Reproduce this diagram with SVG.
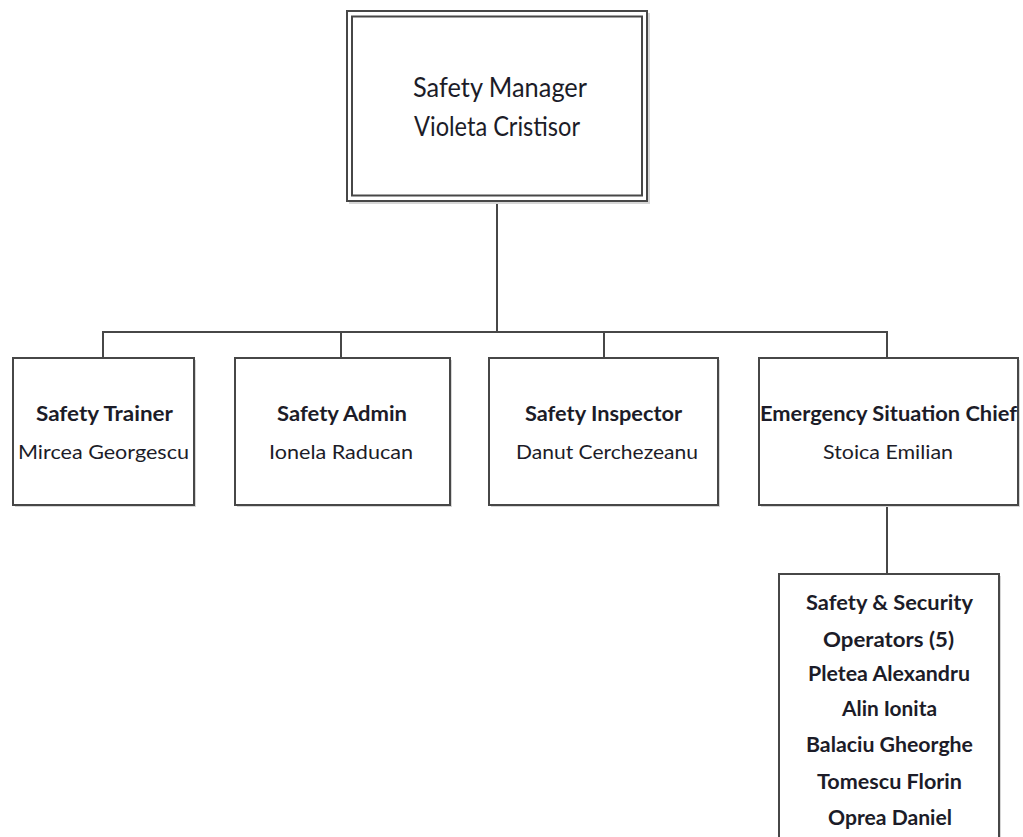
<svg xmlns="http://www.w3.org/2000/svg" width="1023" height="837" viewBox="0 0 1023 837">
  <style>
    .box { fill: #ffffff; stroke: #474747; stroke-width: 2; }
    .shadow { fill: #d6d6d6; }
    .link { fill: none; stroke: #474747; stroke-width: 2; }
    text { font-family: Lato, "Open Sans", "Liberation Sans", sans-serif; fill: #1c1c28; text-anchor: middle; }
    .title { font-size: 20px; font-weight: bold; }
    .name { font-size: 20px; }
    .top { font-size: 26px; }
  </style>
  <rect width="1023" height="837" fill="#ffffff"/>

  <!-- connectors -->
  <g id="connectors">
    <polyline class="link" points="497,201 497,332"/>
    <polyline class="link" points="103,358 103,332 887,332 887,358"/>
    <polyline class="link" points="341,332 341,358"/>
    <polyline class="link" points="604,332 604,358"/>
    <polyline class="link" points="887,505 887,574"/>
  </g>

  <!-- Safety Manager -->
  <g id="safety-manager">
    <rect class="shadow" x="349" y="13" width="301" height="191"/>
    <rect class="box" x="347" y="11" width="300" height="190"/>
    <rect class="box" x="352" y="16.5" width="290" height="179"/>
    <text class="top" x="500" y="97" textLength="174" lengthAdjust="spacingAndGlyphs">Safety  Manager</text>
    <text class="top" x="497" y="136" textLength="166" lengthAdjust="spacingAndGlyphs">Violeta Cristisor</text>
  </g>

  <!-- Safety Trainer -->
  <g id="safety-trainer">
    <rect class="shadow" x="15" y="360" width="181" height="147"/>
    <rect class="box" x="13" y="358" width="181" height="147"/>
    <text class="title" x="104.5" y="421" textLength="137" lengthAdjust="spacingAndGlyphs">Safety Trainer</text>
    <text class="name" x="103.5" y="459" textLength="171" lengthAdjust="spacingAndGlyphs">Mircea Georgescu</text>
  </g>

  <!-- Safety Admin -->
  <g id="safety-admin">
    <rect class="shadow" x="237" y="360" width="215" height="147"/>
    <rect class="box" x="235" y="358" width="215" height="147"/>
    <text class="title" x="342" y="421" textLength="130" lengthAdjust="spacingAndGlyphs">Safety Admin</text>
    <text class="name" x="341" y="459" textLength="144" lengthAdjust="spacingAndGlyphs">Ionela Raducan</text>
  </g>

  <!-- Safety Inspector -->
  <g id="safety-inspector">
    <rect class="shadow" x="491" y="360" width="229" height="147"/>
    <rect class="box" x="489" y="358" width="229" height="147"/>
    <text class="title" x="603.5" y="421" textLength="157" lengthAdjust="spacingAndGlyphs">Safety Inspector</text>
    <text class="name" x="607" y="459" textLength="182" lengthAdjust="spacingAndGlyphs">Danut Cerchezeanu</text>
  </g>

  <!-- Emergency Situation Chief -->
  <g id="emergency-chief">
    <rect class="shadow" x="761" y="360" width="259" height="147"/>
    <rect class="box" x="759" y="358" width="259" height="147"/>
    <text class="title" x="888.5" y="421" textLength="257" lengthAdjust="spacingAndGlyphs">Emergency Situation Chief</text>
    <text class="name" x="888" y="459" textLength="130" lengthAdjust="spacingAndGlyphs">Stoica Emilian</text>
  </g>

  <!-- Safety & Security Operators -->
  <g id="security-operators">
    <rect class="shadow" x="781" y="576" width="220" height="280"/>
    <rect class="box" x="779" y="574" width="220" height="280"/>
    <text class="title" x="889.5" y="610" textLength="167" lengthAdjust="spacingAndGlyphs">Safety &amp; Security</text>
    <text class="title" x="888.5" y="647" textLength="131" lengthAdjust="spacingAndGlyphs">Operators (5)</text>
    <text class="title" x="889" y="681" textLength="162" lengthAdjust="spacingAndGlyphs">Pletea Alexandru</text>
    <text class="title" x="889.5" y="716" textLength="95" lengthAdjust="spacingAndGlyphs">Alin Ionita</text>
    <text class="title" x="889.5" y="752" textLength="167" lengthAdjust="spacingAndGlyphs">Balaciu Gheorghe</text>
    <text class="title" x="889.5" y="789" textLength="145" lengthAdjust="spacingAndGlyphs">Tomescu Florin</text>
    <text class="title" x="890" y="825" textLength="124" lengthAdjust="spacingAndGlyphs">Oprea Daniel</text>
  </g>
</svg>
